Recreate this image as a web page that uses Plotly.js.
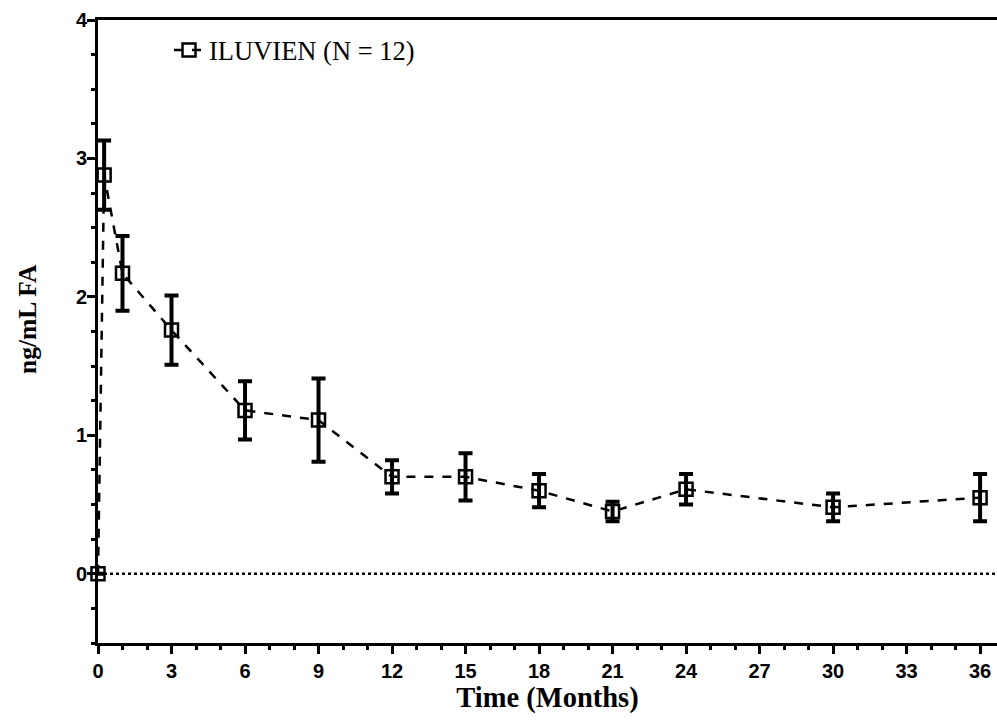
<!DOCTYPE html>
<html>
<head>
<meta charset="utf-8">
<script src="https://cdn.plot.ly/plotly-3.0.1.min.js"></script>
<style>html,body{margin:0;padding:0;background:#fff;}#chart{width:997px;height:720px;}</style>
</head>
<body>
<div id="chart"></div>
<script>
const months = [0, 0.25, 1, 3, 6, 9, 12, 15, 18, 21, 24, 30, 36];
const meanFA = [0, 2.88, 2.17, 1.76, 1.18, 1.11, 0.70, 0.70, 0.60, 0.45, 0.61, 0.48, 0.55];
const errFA  = [0, 0.25, 0.27, 0.25, 0.21, 0.30, 0.12, 0.17, 0.12, 0.07, 0.11, 0.10, 0.17];
const xTicks = [0, 3, 6, 9, 12, 15, 18, 21, 24, 27, 30, 33, 36];
const yTicks = [0, 1, 2, 3, 4];
const seriesName = 'ILUVIEN (N = 12)';
const yTitle = 'ng/mL FA';
const xTitle = 'Time (Months)';

const trace = {
  x: months, y: meanFA, type: 'scatter', mode: 'lines+markers', name: seriesName,
  line: {color: '#000', width: 2.5, dash: 'dash'},
  marker: {symbol: 'square-open', size: 13, color: '#000', line: {width: 2.5, color: '#000'}},
  error_y: {type: 'data', array: errFA, visible: true, color: '#000', thickness: 4, width: 7},
  cliponaxis: false
};

const layout = {
  width: 997, height: 720,
  margin: {l: 98, r: 0, t: 20, b: 77},
  paper_bgcolor: '#fff', plot_bgcolor: '#fff',
  showlegend: true,
  legend: {x: 0.079, y: 0.99, xanchor: 'left', yanchor: 'top', bgcolor: 'rgba(0,0,0,0)',
           font: {family: 'Liberation Serif', size: 26.5, color: '#000'}},
  xaxis: {
    range: [0, 36.69], tickvals: xTicks, ticktext: xTicks.map(v => '<b>' + v + '</b>'),
    showgrid: false, zeroline: false, showline: true, linewidth: 3, linecolor: '#000', mirror: true,
    ticks: 'outside', ticklen: 8, tickwidth: 3, tickcolor: '#000',
    minor: {dtick: 1, tick0: 0, ticks: 'outside', ticklen: 4, tickwidth: 3, tickcolor: '#000', showgrid: false},
    tickfont: {family: 'Liberation Sans', size: 20, color: '#000'},
    title: {text: '<b>' + xTitle + '</b>', font: {family: 'Liberation Serif', size: 28.5, color: '#000'}, standoff: 6}
  },
  yaxis: {
    range: [-0.5, 4], tickvals: yTicks, ticktext: yTicks.map(v => '<b>' + v + '</b>'),
    showgrid: false, zeroline: false, showline: true, linewidth: 3, linecolor: '#000',
    ticks: 'outside', ticklen: 8, tickwidth: 3, tickcolor: '#000', ticklabelstandoff: -4,
    minor: {dtick: 0.25, tick0: 0, ticks: 'outside', ticklen: 4, tickwidth: 3, tickcolor: '#000', showgrid: false},
    tickfont: {family: 'Liberation Sans', size: 20, color: '#000'}
  },
  annotations: [{xref: 'paper', yref: 'paper', x: 0, y: 0.52, xanchor: 'center', yanchor: 'middle',
                 xshift: -71, textangle: -90, showarrow: false, text: '<b>' + yTitle + '</b>',
                 font: {family: 'Liberation Serif', size: 25.5, color: '#000'}}],
  shapes: [{type: 'line', xref: 'paper', x0: 0, x1: 1, yref: 'y', y0: 0, y1: 0,
            line: {color: '#000', width: 2.5, dash: 'dot'}, layer: 'below'}]
};

Plotly.newPlot('chart', [trace], layout, {displayModeBar: false, staticPlot: true});
</script>
</body>
</html>
